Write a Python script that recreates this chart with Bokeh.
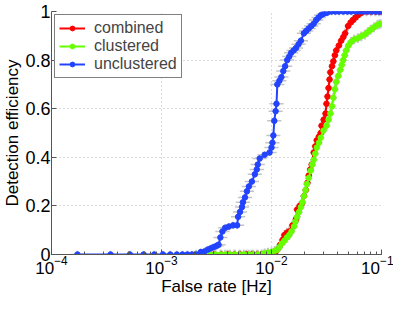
from bokeh.plotting import figure
from bokeh.models import FixedTicker, Legend, LegendItem, Range1d
from bokeh.embed import file_html
from bokeh.resources import INLINE

# ---------------- data ----------------
combined_rate = [2.2e-3, 2.6e-3, 3.0e-3, 3.5e-3, 4.0e-3, 4.6e-3, 5.2e-3, 5.9e-3, 6.6e-3, 7.4e-3,
                 8.2e-3, 9.0e-3, 1.0e-2, 1.08e-2, 1.13e-2, 1.2e-2, 1.26e-2, 1.31e-2, 1.38e-2, 1.45e-2,
                 1.55e-2, 1.67e-2, 1.71e-2, 1.8e-2, 1.89e-2, 1.97e-2, 2.05e-2, 2.12e-2, 2.18e-2, 2.25e-2,
                 2.32e-2, 2.42e-2, 2.5e-2, 2.58e-2, 2.7e-2, 2.8e-2, 2.85e-2, 2.98e-2, 3.1e-2, 3.16e-2,
                 3.23e-2, 3.3e-2, 3.37e-2, 3.43e-2, 3.55e-2, 3.65e-2, 3.77e-2, 3.88e-2, 4.1e-2, 4.3e-2,
                 4.5e-2, 4.67e-2, 4.97e-2, 5.25e-2, 5.51e-2, 5.8e-2, 6.1e-2, 6.45e-2, 6.77e-2, 7.3e-2,
                 8.0e-2, 8.8e-2, 9.5e-2, 1.0e-1]
combined_eff = [0, 0, 0, 0, 0, 0, 0, 0, 0, 0,
                0, 0, 0, 0, 0.02, 0.04, 0.06, 0.08, 0.09, 0.095,
                0.12, 0.145, 0.185, 0.2, 0.21, 0.24, 0.265, 0.295, 0.325, 0.35,
                0.37, 0.42, 0.445, 0.47, 0.485, 0.5, 0.53, 0.555, 0.58, 0.62,
                0.65, 0.685, 0.72, 0.75, 0.775, 0.795, 0.82, 0.84, 0.86, 0.88,
                0.895, 0.91, 0.94, 0.955, 0.965, 0.975, 0.985, 0.993, 1.0, 1.0,
                1.0, 1.0, 1.0, 1.0]

clustered_rate = [2.07e-3, 2.3e-3, 2.55e-3, 2.8e-3, 3.1e-3, 3.45e-3, 3.8e-3, 4.2e-3, 4.65e-3, 5.1e-3,
                  5.6e-3, 6.2e-3, 6.8e-3, 7.5e-3, 8.1e-3, 8.66e-3, 9.3e-3, 1.0e-2, 1.07e-2, 1.13e-2,
                  1.18e-2, 1.24e-2, 1.31e-2, 1.38e-2, 1.45e-2, 1.52e-2, 1.6e-2, 1.65e-2, 1.71e-2, 1.78e-2,
                  1.85e-2, 1.91e-2, 1.97e-2, 2.04e-2, 2.1e-2, 2.18e-2, 2.27e-2, 2.35e-2, 2.42e-2, 2.5e-2,
                  2.58e-2, 2.7e-2, 2.8e-2, 2.97e-2, 3.16e-2, 3.3e-2, 3.43e-2, 3.55e-2, 3.65e-2, 3.77e-2,
                  3.88e-2, 4.05e-2, 4.22e-2, 4.35e-2, 4.49e-2, 4.63e-2, 4.77e-2, 5.0e-2, 5.29e-2, 5.65e-2,
                  6.1e-2, 6.55e-2, 7.05e-2, 7.5e-2, 7.97e-2, 8.55e-2, 9.2e-2, 9.6e-2, 1.0e-1]
clustered_eff = [0, 0, 0, 0, 0, 0, 0, 0, 0, 0,
                 0, 0, 0, 0, 0, 0.005, 0.008, 0.01, 0.015, 0.02,
                 0.03, 0.045, 0.057, 0.07, 0.08, 0.095, 0.115, 0.135, 0.155, 0.175,
                 0.195, 0.215, 0.24, 0.265, 0.29, 0.315, 0.345, 0.37, 0.39, 0.415,
                 0.44, 0.46, 0.48, 0.51, 0.53, 0.555, 0.58, 0.61, 0.645, 0.68,
                 0.71, 0.735, 0.76, 0.78, 0.8, 0.82, 0.84, 0.86, 0.875, 0.885,
                 0.89, 0.898, 0.905, 0.915, 0.925, 0.935, 0.945, 0.948, 0.95]

unclustered_rate = [1.72e-4, 3.44e-4, 5.16e-4, 6.88e-4, 8.6e-4, 1.03e-3, 1.2e-3, 1.38e-3, 1.55e-3, 1.72e-3,
                    1.89e-3, 2.06e-3, 2.28e-3, 2.45e-3, 2.63e-3, 2.8e-3, 2.97e-3, 3.15e-3, 3.3e-3, 3.43e-3,
                    3.58e-3, 3.8e-3, 4.1e-3, 4.48e-3, 4.87e-3, 4.97e-3, 5.17e-3, 5.39e-3, 5.5e-3, 5.74e-3,
                    5.98e-3, 6.23e-3, 6.63e-3, 7.05e-3, 7.35e-3, 7.5e-3, 7.81e-3, 8.66e-3, 9.6e-3, 1.0e-2,
                    1.02e-2, 1.04e-2, 1.06e-2, 1.09e-2, 1.11e-2, 1.13e-2, 1.18e-2, 1.23e-2, 1.28e-2, 1.33e-2,
                    1.39e-2, 1.45e-2, 1.51e-2, 1.59e-2, 1.67e-2, 1.76e-2, 1.85e-2, 1.97e-2, 2.07e-2, 2.18e-2,
                    2.3e-2, 2.42e-2, 2.55e-2, 2.68e-2, 2.82e-2, 2.97e-2, 3.2e-2, 3.51e-2, 3.8e-2, 4.1e-2,
                    4.5e-2, 4.9e-2, 5.3e-2, 5.8e-2, 6.3e-2, 6.9e-2, 7.5e-2, 8.2e-2, 8.9e-2, 9.5e-2, 1.0e-1]
unclustered_eff = [0, 0, 0, 0, 0, 0, 0, 0, 0, 0,
                   0, 0, 0.01, 0.012, 0.02, 0.025, 0.03, 0.035, 0.04, 0.07,
                   0.095, 0.11, 0.115, 0.12, 0.12, 0.155, 0.175, 0.195, 0.215, 0.235,
                   0.26, 0.28, 0.3, 0.33, 0.35, 0.37, 0.395, 0.41, 0.42, 0.44,
                   0.46, 0.49, 0.55, 0.59, 0.62, 0.7, 0.715, 0.73, 0.755, 0.775,
                   0.8, 0.815, 0.83, 0.84, 0.85, 0.865, 0.88, 0.91, 0.92, 0.93,
                   0.94, 0.95, 0.965, 0.975, 0.985, 0.99, 0.995, 1.0, 1.0, 1.0,
                   1.0, 1.0, 1.0, 1.0, 1.0, 1.0, 1.0, 1.0, 1.0, 1.0, 1.0]

# approximate relative rate error and efficiency error (grey bars)
combined_rate_err, combined_eff_err = 0.08, 0.02
clustered_rate_err, clustered_eff_err = 0.08, 0.02
unclustered_rate_err, unclustered_eff_err = 0.16, 0.015

y_ticks = [0, 0.2, 0.4, 0.6, 0.8, 1.0]
y_tick_labels = ["0", "0.2", "0.4", "0.6", "0.8", "1"]
series_names = ["combined", "clustered", "unclustered"]
series_colors = ["#ff0000", "#66ff00", "#2244ff"]

FONT = "Liberation Sans"

p = figure(width=393, height=298, x_axis_type="log",
           x_range=Range1d(1e-4, 1e-1), y_range=Range1d(0, 1),
           output_backend="svg", toolbar_location=None,
           min_border_top=11, min_border_right=12, min_border_left=44,
           min_border_bottom=0)
p.outline_line_color = None

# grids
for g in (p.xgrid, p.ygrid):
    g.grid_line_color = "#b8b8b8"
    g.grid_line_dash = "1 3"
    g.grid_line_width = 1

# axes
p.yaxis.ticker = FixedTicker(ticks=y_ticks)
p.yaxis.major_label_overrides = {t: l for t, l in zip(y_ticks, y_tick_labels)}
for ax in (p.xaxis[0], p.yaxis[0]):
    ax.axis_line_color = "#555555"
    ax.major_tick_line_color = "#555555"
    ax.minor_tick_line_color = "#555555"
    ax.major_tick_in = 5
    ax.major_tick_out = 0
    ax.minor_tick_in = 3
    ax.minor_tick_out = 0
    ax.major_label_text_font = FONT
    ax.major_label_text_font_size = "17px"
    ax.major_label_text_color = "black"
    ax.axis_label_text_font = FONT
    ax.axis_label_text_font_size = "17px"
    ax.axis_label_text_font_style = "normal"
    ax.axis_label_text_color = "black"
    ax.major_label_standoff = 1
    ax.axis_label_standoff = 0
p.yaxis.major_label_text_font_size = "18px"
p.yaxis.minor_tick_line_color = None
p.xaxis.axis_label = "False rate [Hz]"
p.yaxis.axis_label = "Detection efficiency"

data = [(combined_rate, combined_eff, combined_rate_err, combined_eff_err),
        (clustered_rate, clustered_eff, clustered_rate_err, clustered_eff_err),
        (unclustered_rate, unclustered_eff, unclustered_rate_err, unclustered_eff_err)]

for rate, eff, rerr, eerr in data:
    x0 = [r / (1 + rerr) for r in rate]
    x1 = [r * (1 + rerr) for r in rate]
    p.segment(x0=x0, y0=eff, x1=x1, y1=eff, line_color="#c4c4c4", line_width=1.5)
    y0 = [max(e - eerr, 0) for e in eff]
    y1 = [min(e + eerr, 1) for e in eff]
    p.segment(x0=rate, y0=y0, x1=rate, y1=y1, line_color="#c4c4c4", line_width=2)

items = []
for (rate, eff, rerr, eerr), name, color in zip(data, series_names, series_colors):
    ln = p.line(rate, eff, line_color=color, line_width=2)
    sc = p.scatter(rate, eff, size=5.5, fill_color=color, line_color=color)
    items.append(LegendItem(label=name, renderers=[ln, sc]))

legend = Legend(items=items, location="top_left")
legend.label_text_font = FONT
legend.label_text_font_size = "16px"
legend.border_line_color = "black"
legend.border_line_width = 1
legend.background_fill_color = "white"
legend.background_fill_alpha = 1
legend.glyph_width = 26
legend.glyph_height = 12
legend.label_height = 12
legend.spacing = 0
legend.padding = 4
legend.margin = 3
legend.label_standoff = 9
p.add_layout(legend)

open("out.html", "w").write(file_html(p, INLINE))
